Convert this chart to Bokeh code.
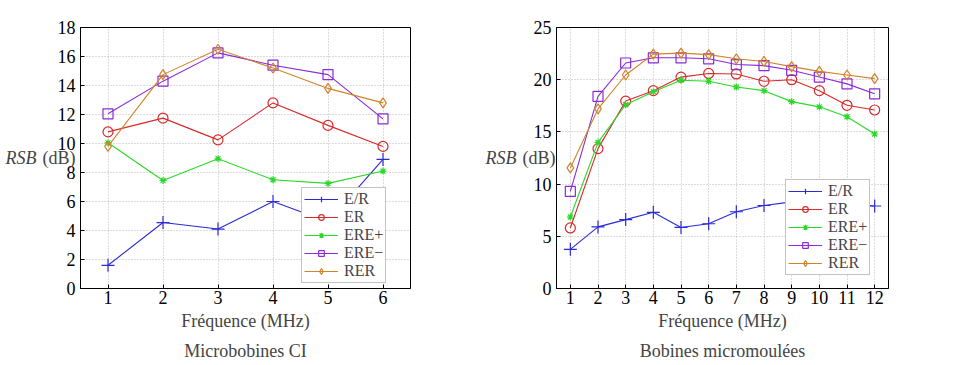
from bokeh.plotting import figure
from bokeh.layouts import row
from bokeh.models import Title, FixedTicker, LinearAxis
from bokeh.embed import file_html
from bokeh.resources import INLINE

FONT = "Liberation Serif"

series_names = ["E/R", "ER", "ERE+", "ERE\u2212", "RER"]
colors = ["#2a2ad8", "#d82a2a", "#2ad82a", "#8a2ad8", "#d0842a"]
markers = ["cross", "circle", "asterisk", "square", "diamond"]

# Left plot: Microbobines CI
freq_ci = [1, 2, 3, 4, 5, 6]
ci_er_r = [1.6, 4.55, 4.1, 6.0, 4.6, 8.9]
ci_er = [10.8, 11.75, 10.25, 12.8, 11.25, 9.8]
ci_ere_p = [10.05, 7.45, 8.95, 7.5, 7.25, 8.1]
ci_ere_m = [12.05, 14.3, 16.25, 15.4, 14.75, 11.7]
ci_rer = [9.8, 14.75, 16.5, 15.2, 13.8, 12.8]

# Right plot: Bobines micromoulées
freq_mm = [1, 2, 3, 4, 5, 6, 7, 8, 9, 10, 11, 12]
mm_er_r = [3.75, 5.9, 6.6, 7.3, 5.85, 6.2, 7.35, 7.95, 8.3, 8.4, 8.1, 7.9]
mm_er = [5.8, 13.4, 17.95, 18.95, 20.25, 20.6, 20.55, 19.85, 20.0, 18.95, 17.55, 17.1]
mm_ere_p = [6.85, 14.0, 17.6, 18.85, 19.95, 19.85, 19.3, 18.95, 17.9, 17.4, 16.45, 14.8]
mm_ere_m = [9.3, 18.4, 21.6, 22.1, 22.1, 22.0, 21.45, 21.35, 20.9, 20.25, 19.6, 18.65]
mm_rer = [11.55, 17.2, 20.45, 22.45, 22.55, 22.4, 22.0, 21.75, 21.25, 20.8, 20.45, 20.1]

ci_ticks_x = freq_ci
ci_ticks_y = [0, 2, 4, 6, 8, 10, 12, 14, 16, 18]
mm_ticks_x = freq_mm
mm_ticks_y = [0, 5, 10, 15, 20, 25]


def make_plot(x, ys, xticks, yticks, xr, yr, fw, bl, br, title, legend_loc, dbstand):
    p = figure(frame_width=fw, frame_height=261, x_range=xr, y_range=yr,
               output_backend="svg", toolbar_location=None,
               min_border_left=bl, min_border_right=br,
               min_border_top=27, min_border_bottom=10)
    p.outline_line_color = "black"
    p.outline_line_width = 1
    p.background_fill_color = "white"
    p.border_fill_color = "white"
    for ax in (p.xaxis[0], p.yaxis[0]):
        ax.axis_line_color = "black"
        ax.major_tick_in = 4
        ax.major_tick_out = 0
        ax.minor_tick_line_color = None
        ax.major_label_text_font = FONT
        ax.major_label_text_font_size = "18px"
        ax.major_label_text_color = "black"
        ax.major_tick_line_color = "black"
    p.xaxis[0].ticker = FixedTicker(ticks=xticks)
    p.yaxis[0].ticker = FixedTicker(ticks=yticks)
    p.xaxis[0].major_label_standoff = 2
    p.yaxis[0].major_label_standoff = 5
    p.xaxis[0].axis_label = "Fréquence (MHz)"
    p.xaxis[0].axis_label_text_font = FONT
    p.xaxis[0].axis_label_text_font_style = "normal"
    p.xaxis[0].axis_label_text_font_size = "18px"
    p.xaxis[0].axis_label_standoff = 4

    ya = p.yaxis[0]
    ya.axis_label = "(dB)"
    ya.axis_label_orientation = "horizontal"
    ya.axis_label_text_font = FONT
    ya.axis_label_text_font_style = "normal"
    ya.axis_label_text_font_size = "18px"
    ya.axis_label_standoff = dbstand

    ya2 = LinearAxis(ticker=FixedTicker(ticks=[]), axis_line_color=None,
                     major_tick_line_color=None, minor_tick_line_color=None,
                     major_tick_out=0, major_tick_in=0, major_label_standoff=0,
                     axis_label="RSB", axis_label_orientation="horizontal",
                     axis_label_text_font=FONT, axis_label_text_font_style="italic",
                     axis_label_text_font_size="18px", axis_label_standoff=3)
    p.add_layout(ya2, "left")

    for g in p.grid:
        g.grid_line_color = "#b8b8b8"
        g.grid_line_dash = "1 2"
        g.grid_line_width = 1
    p.xgrid[0].ticker = FixedTicker(ticks=xticks)
    p.ygrid[0].ticker = FixedTicker(ticks=yticks)

    for name, col, mk, y in zip(series_names, colors, markers, ys):
        p.line(x, y, line_color=col, line_width=1.1, legend_label=name)
        size = {"cross": 13, "asterisk": 7}.get(mk, 10)
        p.scatter(x, y, marker=mk, size=size,
                  line_color=col, fill_color=None, line_width=1.2, legend_label=name)

    lg = p.legend[0]
    lg.location = legend_loc
    lg.label_text_font = FONT
    lg.label_text_font_size = "16px"
    lg.glyph_width = 34
    lg.glyph_height = 14
    lg.label_height = 14
    lg.spacing = 0
    lg.padding = 2
    lg.margin = 0
    lg.label_standoff = 6
    lg.border_line_color = "#888888"
    lg.background_fill_alpha = 1

    p.add_layout(Title(text=title, align="center", text_font=FONT, text_font_size="18px",
                       text_font_style="normal", standoff=10), "below")
    return p


p1 = make_plot(freq_ci, [ci_er_r, ci_er, ci_ere_p, ci_ere_m, ci_rer], ci_ticks_x, ci_ticks_y,
               (0.5, 6.5), (0, 18), 330, 80, 70, "Microbobines CI", (221, 5), -21)
p2 = make_plot(freq_mm, [mm_er_r, mm_er, mm_ere_p, mm_ere_m, mm_rer], mm_ticks_x, mm_ticks_y,
               (0.5, 12.5), (0, 25), 332, 76, 10, "Bobines micromoulées", (229, 13), -25)

layout = row(p1, p2)
open("out.html", "w").write(file_html(layout, INLINE))
